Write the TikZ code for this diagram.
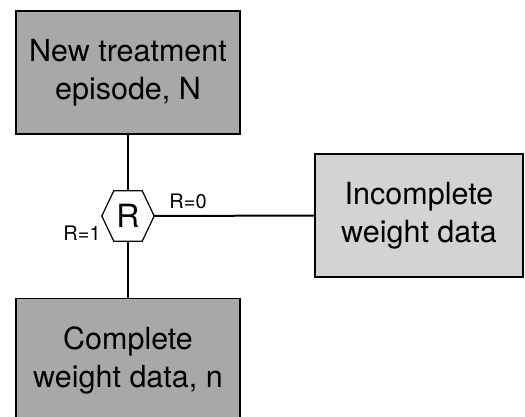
\documentclass[tikz,border=0pt]{standalone}
\usepackage{fontspec}
\setmainfont{TeX Gyre Heros}
\begin{document}
\begin{tikzpicture}[x=1pt,y=-1pt,
  darkbox/.style={draw=black,line width=1.5pt,fill=darkfill,minimum width=224pt,minimum height=123pt,align=center,inner sep=0pt,font=\fontsize{30.5}{38}\selectfont},
  lightbox/.style={draw=black,line width=1.5pt,fill=lightfill,minimum width=208pt,minimum height=123pt,align=center,inner sep=0pt,font=\fontsize{30.5}{38}\selectfont},
  conn/.style={line width=2pt},
  lab/.style={font=\fontsize{20}{22}\selectfont,inner sep=0pt}]
\definecolor{darkfill}{HTML}{A8A8A8}
\definecolor{lightfill}{HTML}{D3D3D3}
\useasboundingbox (0,0) rectangle (525,417);
\node[darkbox] (top) at (128,72.5) {New treatment\\episode, N};
\node[darkbox] (bot) at (128,360) {Complete\\weight data, n};
\node[lightbox] (inc) at (419,215.5) {Incomplete\\weight data};
\node[minimum width=52pt,minimum height=50pt,inner sep=0pt] (R) at (128,216) {};
\draw[line width=1.2pt,fill=white] (R.west) -- ([xshift=12pt]R.north west) -- ([xshift=-12pt]R.north east) -- (R.east) -- ([xshift=-12pt]R.south east) -- ([xshift=12pt]R.south west) -- cycle;
\node[inner sep=0pt,font=\fontsize{32}{34}\selectfont] at (R.center) {R};
\draw[conn] (top.south) -- (R.north);
\draw[conn] (R.south) -- (bot.north);
\draw[conn] (R.east) -- (inc.west);
\node[lab] (l0) at (188,201) {R=0};
\node[lab] (l1) at (82,233) {R=1};
\end{tikzpicture}
\end{document}
